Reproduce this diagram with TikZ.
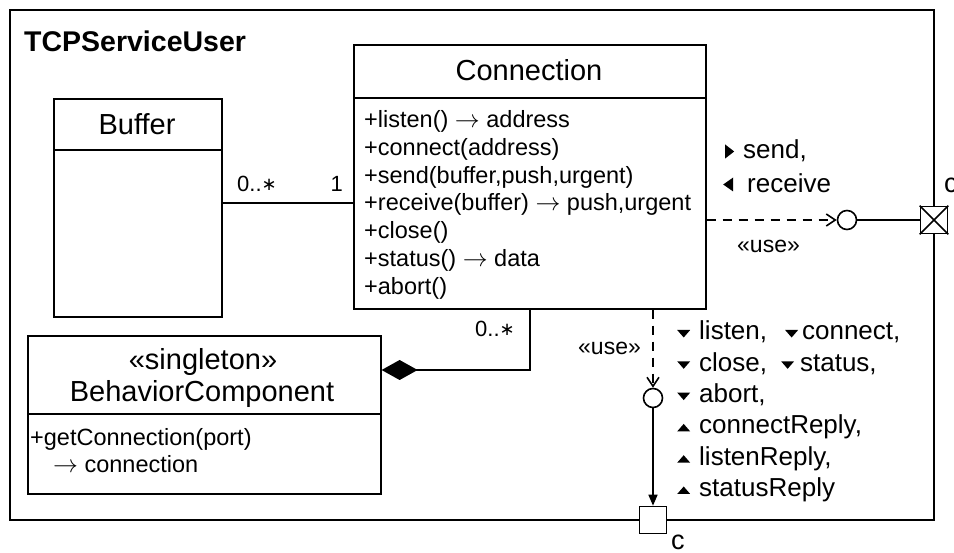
\documentclass[tikz,border=0pt]{standalone}
\usepackage{fontspec}
\setmainfont{Liberation Sans}
\newfontfamily\symbolfont{DejaVu Sans}
\usetikzlibrary{arrows.meta}

% small filled signal triangles, drawn inline with the text
\newcommand\sigright{\tikz[baseline=0pt]\fill (0pt,0.5pt)--(9pt,7.5pt)--(0pt,14.5pt)--cycle;}
\newcommand\sigleft{\tikz[baseline=0pt]\fill (10pt,1.5pt)--(0pt,8.5pt)--(10pt,15.5pt)--cycle;}
\newcommand\sigdown{\tikz[baseline=0pt]\fill (0pt,10pt)--(13pt,10pt)--(6.5pt,2.5pt)--cycle;}
\newcommand\sigup{\tikz[baseline=0pt]\fill (0pt,2.5pt)--(13pt,2.5pt)--(6.5pt,10pt)--cycle;}
\newcommand\many{\raisebox{1pt}{\fontsize{18}{18}\symbolfont ∗}}

\tikzset{
  umlbox/.style={draw, line width=1.6pt, inner sep=0pt, anchor=north west},
  conn/.style={line width=1.6pt},
  usedep/.style={conn, dash pattern=on 9pt off 7pt},
  classname/.style={font=\fontsize{29}{29}\selectfont, anchor=base, inner sep=0pt},
  opline/.style={font=\fontsize{23.5}{23.5}\selectfont, anchor=base west, inner sep=0pt},
  mult/.style={font=\fontsize{22}{22}\selectfont, anchor=base west, inner sep=0pt},
  stereo/.style={font=\fontsize{23}{23}\selectfont, anchor=base west, inner sep=0pt},
  sigline/.style={font=\fontsize{26}{26}\selectfont, anchor=base west, inner sep=0pt},
  portbox/.style={draw, line width=1.6pt, fill=white, minimum size=27pt, inner sep=0pt},
  iface/.style={draw, circle, line width=1.6pt, fill=white, minimum size=19pt, inner sep=0pt},
}

\begin{document}
\begin{tikzpicture}[x=1pt, y=-1pt]
\useasboundingbox (0,0) rectangle (954,553);

% enclosing component
\draw[line width=1.8pt] (10,10) rectangle (934,520);
\node[font=\bfseries\fontsize{28.5}{28.5}\selectfont, anchor=base west, inner sep=0pt]
  (sysname) at (24,52) {TCPServiceUser};

% class Connection
\node[umlbox, minimum width=352pt, minimum height=264pt] (conn) at (353,44) {};
\draw[conn] (conn.west |- 0,98) -- (conn.east |- 0,98);
\node[classname] (conntitle) at (529,81) {Connection};
\node[opline] (op1) at (364,127.5) {+listen() $\rightarrow$ address};
\node[opline] (op2) at (364,155.3) {+connect(address)};
\node[opline] (op3) at (364,183.1) {+send(buffer,push,urgent)};
\node[opline] (op4) at (364,210.9) {+receive(buffer) $\rightarrow$ push,urgent};
\node[opline] (op5) at (364,238.7) {+close()};
\node[opline] (op6) at (364,266.5) {+status() $\rightarrow$ data};
\node[opline] (op7) at (364,294.3) {+abort()};

% class Buffer
\node[umlbox, minimum width=168pt, minimum height=218pt] (buf) at (53,98) {};
\draw[conn] (buf.west |- 0,150) -- (buf.east |- 0,150);
\node[classname] (buftitle) at (137,135) {Buffer};

% class BehaviorComponent
\node[umlbox, minimum width=353pt, minimum height=158pt] (beh) at (27,335) {};
\draw[conn] (beh.west |- 0,414) -- (beh.east |- 0,414);
\node[classname] (behstereo) at (203,369.3) {«singleton»};
\node[classname] (behtitle) at (202,401.5) {BehaviorComponent};
\node[opline] (bop1) at (30,446) {+getConnection(port)};
\node[opline] (bop2) at (53,472.5) {$\rightarrow$ connection};

% association Buffer -- Connection
\draw[conn] (buf.east |- 0,203) -- (conn.west |- 0,203);
\node[mult] (mbuf) at (237,192) {0..\many};
\node[mult, anchor=base east] (mconn) at (343,192) {1};

% composition BehaviorComponent <>-- Connection
\draw[conn, {Diamond[length=36pt,width=20pt]}-] (beh.east |- 0,370) -| (conn.south -| 530,0);
\node[mult] (mcomp) at (475,337) {0..\many};

% ports and provided/required interfaces
\node[portbox] (portR) at (934,220) {};
\draw[conn] (portR.north west) -- (portR.south east) (portR.north east) -- (portR.south west);
\node[font=\fontsize{27}{27}\selectfont, anchor=base west, inner sep=0pt] (cR) at (944,193) {c};
\node[iface] (ifR) at (847,220) {};
\draw[usedep, -{Straight Barb[length=9pt,width=12pt]}] (conn.east |- ifR) -- (ifR.west);
\draw[conn] (ifR.east) -- (portR.west);
\node[stereo] (useR) at (737,253) {«use»};
\node[sigline] (sigR1) at (725,159) {\sigright\hspace{9pt}send,};
\node[sigline] (sigR2) at (723,193) {\sigleft\hspace{14pt}receive};

\node[portbox] (portB) at (653,520) {};
\node[font=\fontsize{27}{27}\selectfont, anchor=base west, inner sep=0pt] (cB) at (671,549) {c};
\node[iface] (ifB) at (653,398) {};
\draw[usedep, -{Straight Barb[length=9pt,width=12pt]}] (conn.south -| ifB) -- (ifB.north);
\draw[conn, -{Triangle[length=11pt,width=9pt]}] (ifB.south) -- (portB.north);
\node[stereo] (useB) at (578,355) {«use»};
\node[sigline] (sigB1) at (677,340) {\sigdown\hspace{9pt}listen,\hspace{18pt}\sigdown\hspace{4pt}connect,};
\node[sigline] (sigB2) at (677,371.3) {\sigdown\hspace{9pt}close,\hspace{14pt}\sigdown\hspace{6pt}status,};
\node[sigline] (sigB3) at (677,402.6) {\sigdown\hspace{9pt}abort,};
\node[sigline] (sigB4) at (677,433.9) {\sigup\hspace{9pt}connectReply,};
\node[sigline] (sigB5) at (677,465.2) {\sigup\hspace{9pt}listenReply,};
\node[sigline] (sigB6) at (677,496.5) {\sigup\hspace{9pt}statusReply};
\end{tikzpicture}
\end{document}
